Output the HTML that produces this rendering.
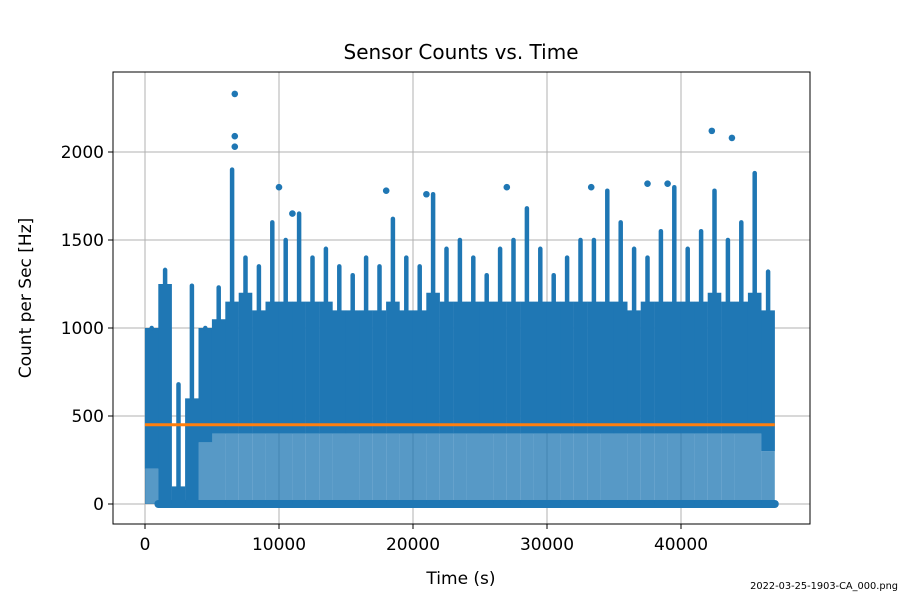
<!DOCTYPE html>
<html><head><meta charset="utf-8"><style>
html,body{margin:0;padding:0;background:#fff}
svg text{font-family:"DejaVu Sans","Liberation Sans",sans-serif}
</style></head><body>
<svg id="chart" width="900" height="600" xmlns="http://www.w3.org/2000/svg">
<rect width="900" height="600" fill="#fff"/>
<text x="461" y="59" font-size="20" text-anchor="middle">Sensor Counts vs. Time</text>
<g id="grid"></g>
<g id="marks"></g>
<g id="mean"></g>
<rect x="113" y="72" width="697" height="452" fill="none" stroke="#000" stroke-width="1"/>
<g id="ticks"></g>
<text x="461" y="584" font-size="17" text-anchor="middle">Time (s)</text>
<text transform="translate(31,298) rotate(-90)" font-size="17" text-anchor="middle">Count per Sec [Hz]</text>
<text x="898" y="589" font-size="9.8" text-anchor="end">2022-03-25-1903-CA_000.png</text>
</svg>
<script>
const xTicks=[0,10000,20000,30000,40000];
const yTicks=[0,500,1000,1500,2000];
const binStart=[0,1000,2000,3000,4000,5000,6000,7000,8000,9000,10000,11000,12000,13000,14000,15000,16000,17000,18000,19000,20000,21000,22000,23000,24000,25000,26000,27000,28000,29000,30000,31000,32000,33000,34000,35000,36000,37000,38000,39000,40000,41000,42000,43000,44000,45000,46000];
const denseHi=[1000,1250,100,600,1000,1050,1150,1200,1100,1150,1150,1150,1150,1150,1100,1100,1100,1100,1150,1100,1100,1200,1150,1150,1150,1150,1150,1150,1150,1150,1150,1150,1150,1150,1150,1150,1100,1150,1150,1150,1150,1150,1200,1150,1150,1200,1100];
const denseLo=[200,0,0,0,350,400,400,400,400,400,400,400,400,400,400,400,400,400,400,400,400,400,400,400,400,400,400,400,400,400,400,400,400,400,400,400,400,400,400,400,400,400,400,400,400,400,300];
const peak=[1000,1330,680,1240,1000,1230,1900,1400,1350,1600,1500,1650,1400,1450,1350,1300,1400,1350,1620,1400,1350,1760,1450,1500,1400,1300,1450,1500,1680,1450,1300,1400,1500,1500,1780,1600,1450,1400,1550,1800,1450,1550,1780,1500,1600,1880,1320];
const outT=[6700,6700,6700,42300,43800,27000,10000,33300,18000,39000,37500,21000,11000];
const outV=[2330,2090,2030,2120,2080,1800,1800,1800,1780,1820,1820,1760,1650];
const meanVal=450, meanStart=0, meanEnd=47000;
const zeroStart=1000, zeroEnd=47000;

const NS="http://www.w3.org/2000/svg";
const X=t=>145+t*0.0134;
const Y=v=>504-v*0.176;
const C="#1f77b4";
function mk(tag,attrs,parent){const e=document.createElementNS(NS,tag);for(const k in attrs)e.setAttribute(k,attrs[k]);parent.appendChild(e);return e;}
const grid=document.getElementById('grid'),marks=document.getElementById('marks'),ticks=document.getElementById('ticks'),mean=document.getElementById('mean');
xTicks.forEach(t=>{
 const g=mk('line',{x1:X(t),x2:X(t),y1:72,y2:524,stroke:'#b0b0b0','stroke-width':1},grid);
 
 
 const tk=mk('line',{x1:X(t),x2:X(t),y1:524,y2:529,stroke:'#000'},ticks);
 
 
 const l=mk('text',{x:X(t),y:550,'font-size':17,'text-anchor':'middle'},ticks);l.textContent=t;
 
 
});
yTicks.forEach(v=>{
 const g=mk('line',{x1:113,x2:810,y1:Y(v),y2:Y(v),stroke:'#b0b0b0','stroke-width':1},grid);
 
 
 const tk=mk('line',{x1:108,x2:113,y1:Y(v),y2:Y(v),stroke:'#000'},ticks);
 
 
 const l=mk('text',{x:104,y:Y(v)+6,'font-size':17,'text-anchor':'end'},ticks);l.textContent=v;
 
 
});
const z=mk('line',{x1:X(zeroStart),x2:X(zeroEnd),y1:Y(0),y2:Y(0),stroke:C,'stroke-width':8,'stroke-linecap':'round'},marks);


binStart.forEach((t,i)=>{
 const cx=X(t+500);
 const lo=mk('line',{x1:cx,x2:cx,y1:Y(0),y2:Y(denseLo[i]),stroke:C,'stroke-width':13.4,opacity:0.75},marks);
 
 
 const d=mk('line',{x1:cx,x2:cx,y1:Y(denseLo[i]),y2:Y(denseHi[i]),stroke:C,'stroke-width':13.6},marks);
 
 
 const p=mk('line',{x1:cx,x2:cx,y1:Y(denseHi[i]),y2:Y(peak[i]),stroke:C,'stroke-width':4.5,'stroke-linecap':'round'},marks);
 
 
});
outT.forEach((t,i)=>{
 const c=mk('circle',{cx:X(t),cy:Y(outV[i]),r:3.3,fill:C},marks);
 
 
});
const m=mk('line',{x1:X(meanStart),x2:X(meanEnd),y1:Y(meanVal),y2:Y(meanVal),stroke:'#ff7f0e','stroke-width':3},mean);


</script>
</body></html>
